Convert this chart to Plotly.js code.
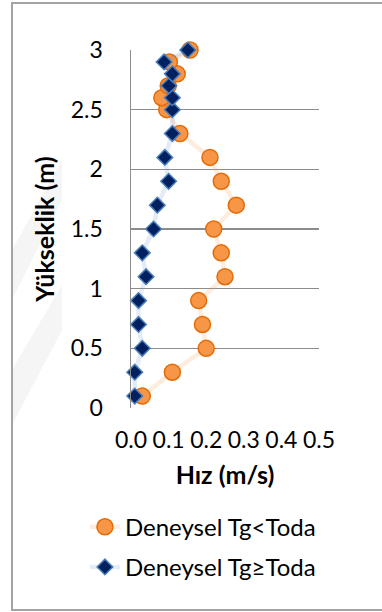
<!DOCTYPE html>
<html>
<head>
<meta charset="utf-8">
<script src="https://cdn.plot.ly/plotly-3.0.1.min.js"></script>
<style>
  html, body { margin: 0; padding: 0; background: #fff; overflow: hidden; }
  #wrap { position: relative; width: 382px; height: 612px; background: #fff; }
  #bgmark { position: absolute; left: 0; top: 0; }
  #chart { position: absolute; left: 0; top: 0; width: 382px; height: 612px; }
  #frame {
    position: absolute; left: 11px; top: 2px; width: 390px; height: 605px;
    border: 2px solid #a3a3a3; pointer-events: none;
  }
</style>
</head>
<body>
<div id="wrap">
  <svg id="bgmark" width="382" height="612">
    <polygon points="12,250 62,160 62,200 12,300" fill="#f5f5f5"/>
    <polygon points="12,370 62,285 62,330 12,425" fill="#f5f5f5"/>
  </svg>
  <div id="chart"></div>
  <div id="frame"></div>
</div>
<script>
// Heights (m) at which velocity was measured
const heights = [0.1, 0.3, 0.5, 0.7, 0.9, 1.1, 1.3, 1.5, 1.7, 1.9, 2.1, 2.3, 2.5, 2.6, 2.7, 2.8, 2.9, 3.0];

// Measured velocities (m/s)
const velTgLess = [0.030, 0.110, 0.200, 0.190, 0.180, 0.250, 0.240, 0.220, 0.280, 0.240, 0.210, 0.130, 0.095, 0.082, 0.099, 0.123, 0.102, 0.157];
const velTgGeq  = [0.010, 0.010, 0.030, 0.020, 0.020, 0.040, 0.030, 0.060, 0.070, 0.100, 0.090, 0.110, 0.110, 0.110, 0.101, 0.110, 0.088, 0.151];

const seriesNames = ['Deneysel Tg<Toda', 'Deneysel Tg\u2265Toda'];

const xTickVals = [0, 0.1, 0.2, 0.3, 0.4, 0.5];
const xTickText = ['0.0', '0.1', '0.2', '0.3', '0.4', '0.5'];
const yTickVals = [0, 0.5, 1, 1.5, 2, 2.5, 3];
const yTickText = ['0', '0.5', '1', '1.5', '2', '2.5', '3'];

const FONT = 'Lato, "Open Sans", sans-serif';

const traces = [
  {
    x: velTgLess, y: heights, name: seriesNames[0],
    type: 'scatter', mode: 'lines+markers', legendgroup: 'a', cliponaxis: false,
    line: { color: 'rgba(247,150,70,0.18)', width: 4.5 },
    marker: { symbol: 'circle', size: 16, color: '#F79646', line: { color: '#E36C09', width: 1.5 } }
  },
  {
    x: velTgGeq, y: heights, name: seriesNames[1],
    type: 'scatter', mode: 'lines+markers', legendgroup: 'b', cliponaxis: false,
    line: { color: 'rgba(79,129,189,0.15)', width: 4.5 },
    marker: { symbol: 'diamond', size: 12, color: '#002060', line: { color: '#4A7EBB', width: 1.5 } }
  }
];

const layout = {
  width: 382, height: 612,
  margin: { l: 131, r: 63, t: 50, b: 204 },
  paper_bgcolor: 'rgba(0,0,0,0)', plot_bgcolor: 'rgba(0,0,0,0)',
  font: { family: FONT, color: '#000' },
  showlegend: true,
  legend: {
    x: -0.245, xanchor: 'left', y: -0.27, yanchor: 'top',
    font: { family: FONT, size: 24, color: '#000' },
    traceorder: 'grouped', tracegroupgap: 6,
    bgcolor: 'rgba(0,0,0,0)'
  },
  xaxis: {
    range: [0, 0.5], tickmode: 'array', tickvals: xTickVals, ticktext: xTickText,
    showgrid: false, zeroline: false, showline: false, ticks: '',
    tickfont: { family: FONT, size: 23, color: '#000' },
    ticklabelstandoff: 16,
    title: { text: '<b>Hız (m/s)</b>', font: { family: FONT, size: 25, color: '#000' }, standoff: 14 },
    automargin: false, fixedrange: true
  },
  yaxis: {
    range: [0, 3], tickmode: 'array', tickvals: yTickVals, ticktext: yTickText,
    showgrid: true, gridcolor: '#8c8c8c', gridwidth: 1.5,
    zeroline: false, showline: true, linecolor: '#8c8c8c', linewidth: 1.5, ticks: '',
    tickfont: { family: FONT, size: 23, color: '#000' },
    ticklabelstandoff: 22,
    title: { text: '<b>Yükseklik (m)</b>', font: { family: FONT, size: 25, color: '#000' }, standoff: 9 },
    automargin: false, fixedrange: true
  }
};

Plotly.newPlot('chart', traces, layout, { displayModeBar: false, staticPlot: true });
</script>
</body>
</html>
